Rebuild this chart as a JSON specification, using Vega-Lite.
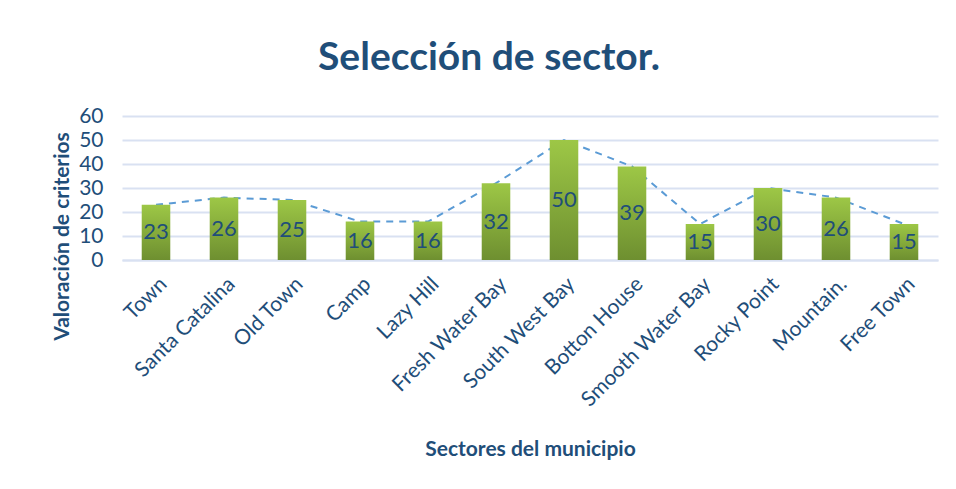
{
  "$schema": "https://vega.github.io/schema/vega-lite/v6.json",
  "autosize": {"type": "none"},
  "width": 816,
  "height": 144,
  "padding": {"left": 122, "top": 116, "right": 18, "bottom": 229},
  "background": "white",
  "title": {
    "text": "Selección de sector.",
    "font": "Lato",
    "fontSize": 39,
    "fontWeight": "bold",
    "color": "#1F4E79",
    "anchor": "middle",
    "dx": -41,
    "offset": 27
  },
  "data": {
    "values": [
      {"sector": "Town", "valor": 23},
      {"sector": "Santa Catalina", "valor": 26},
      {"sector": "Old Town", "valor": 25},
      {"sector": "Camp", "valor": 16},
      {"sector": "Lazy Hill", "valor": 16},
      {"sector": "Fresh Water Bay", "valor": 32},
      {"sector": "South West Bay", "valor": 50},
      {"sector": "Botton House", "valor": 39},
      {"sector": "Smooth Water Bay", "valor": 15},
      {"sector": "Rocky Point", "valor": 30},
      {"sector": "Mountain.", "valor": 26},
      {"sector": "Free Town", "valor": 15}
    ]
  },
  "encoding": {
    "x": {
      "field": "sector",
      "type": "nominal",
      "sort": null,
      "scale": {"paddingInner": 0.58, "paddingOuter": 0.29},
      "axis": {
        "title": "Sectores del municipio",
        "titleFont": "Lato",
        "titleFontSize": 21,
        "titleFontWeight": "bold",
        "titleColor": "#1F4E79",
        "titleX": 408,
        "titleY": 189,
        "titleBaseline": "middle",
        "labelAngle": -45,
        "labelFont": "Lato",
        "labelFontSize": 21,
        "labelColor": "#1F4E79",
        "labelPadding": 13,
        "ticks": false,
        "domain": true,
        "domainColor": "#D9E1F2",
        "domainWidth": 2,
        "grid": false
      }
    }
  },
  "layer": [
    {
      "mark": {"type": "line", "color": "#5B9BD5", "strokeWidth": 2, "strokeDash": [7, 6]},
      "encoding": {
        "y": {
          "field": "valor",
          "type": "quantitative",
          "scale": {"domain": [0, 60]},
          "axis": {
            "title": "Valoración de criterios",
            "titleFont": "Lato",
            "titleFontSize": 21,
            "titleFontWeight": "bold",
            "titleColor": "#1F4E79",
            "titleX": -60,
            "titleY": 120,
            "titleBaseline": "middle",
            "values": [0, 10, 20, 30, 40, 50, 60],
            "labelFont": "Lato",
            "labelFontSize": 21,
            "labelColor": "#1F4E79",
            "labelPadding": 19,
            "ticks": false,
            "domain": false,
            "grid": true,
            "gridColor": "#D9E1F2",
            "gridWidth": 2
          }
        }
      }
    },
    {
      "mark": {
        "type": "bar",
        "color": {
          "gradient": "linear",
          "x1": 0, "y1": 0, "x2": 0, "y2": 1,
          "stops": [
            {"offset": 0, "color": "#9DC746"},
            {"offset": 1, "color": "#6E8F30"}
          ]
        }
      },
      "encoding": {
        "y": {"field": "valor", "type": "quantitative", "scale": {"domain": [0, 60]}, "axis": null}
      }
    },
    {
      "mark": {"type": "text", "font": "Lato", "fontSize": 22, "color": "#1F4E79", "baseline": "middle"},
      "encoding": {
        "y": {"field": "valor", "type": "quantitative", "scale": {"domain": [0, 120]}, "axis": null},
        "text": {"field": "valor", "type": "quantitative"}
      }
    }
  ],
  "resolve": {"scale": {"y": "independent"}},
  "config": {"view": {"stroke": null}}
}
